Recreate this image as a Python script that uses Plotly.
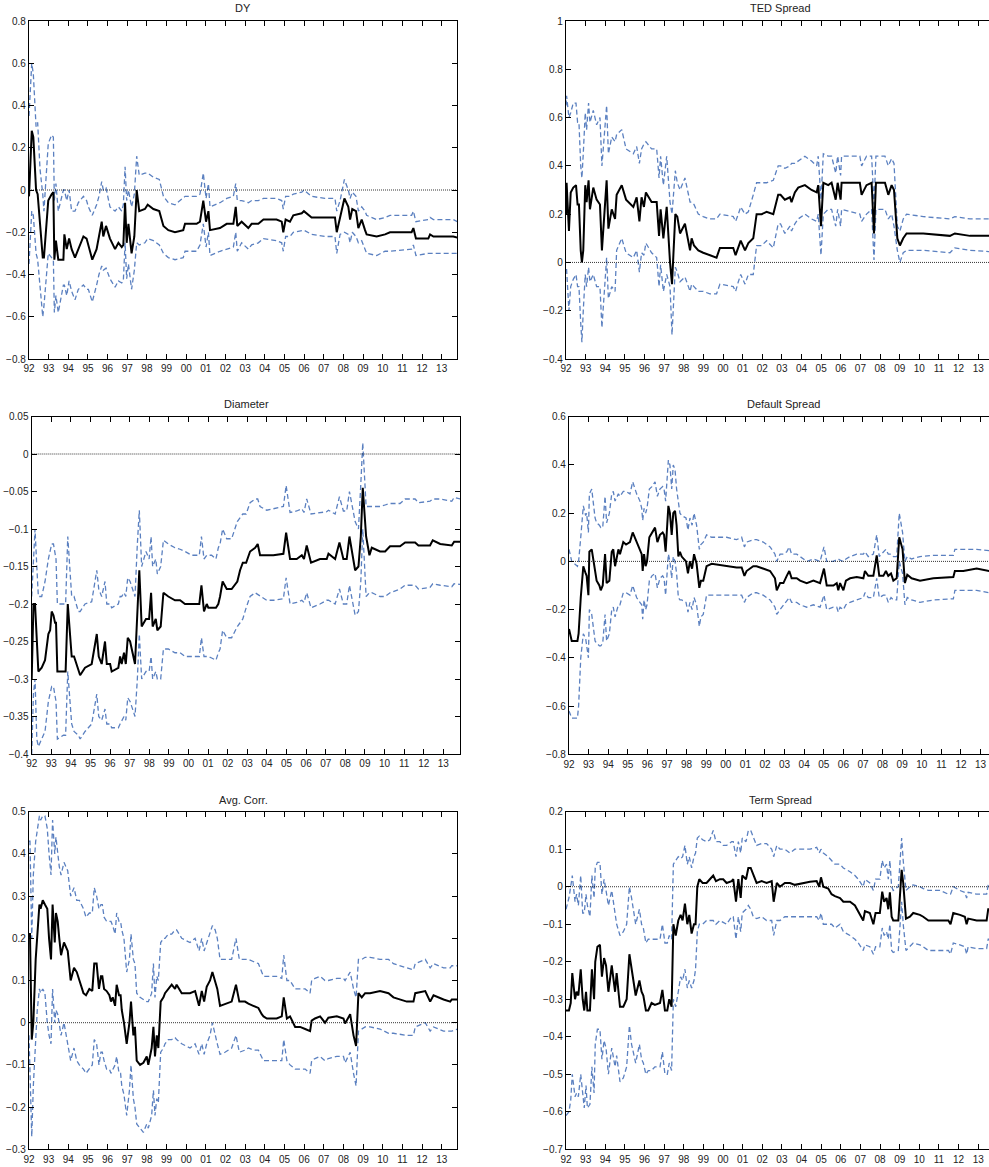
import plotly.graph_objects as go

W, H = 989, 1167

year_ticks = list(range(1992, 2014))
year_labels = ['92', '93', '94', '95', '96', '97', '98', '99', '00', '01', '02',
               '03', '04', '05', '06', '07', '08', '09', '10', '11', '12', '13']

# ---------------- DY ----------------
dy_t = [1992.00,1992.14,1992.22,1992.36,1992.44,1992.56,1992.70,1992.76,1992.98,1993.15,
        1993.24,1993.29,1993.37,1993.49,1993.75,1993.80,1993.92,1994.04,1994.17,1994.34,
        1994.51,1994.77,1994.93,1995.02,1995.22,1995.44,1995.56,1995.70,1995.78,1995.92,
        1996.12,1996.38,1996.55,1996.72,1996.80,1996.89,1996.97,1997.06,1997.22,1997.36,
        1997.48,1997.61,1997.90,1998.04,1998.33,1998.63,1998.84,1999.09,1999.43,1999.85,
        1999.94,2000.53,2000.70,2000.87,2001.01,2001.13,2001.21,2001.72,2002.06,2002.40,
        2002.52,2002.60,2002.82,2003.16,2003.33,2003.67,2003.93,2004.60,2004.86,2004.94,
        2005.06,2005.28,2005.45,2005.88,2005.99,2006.38,2007.06,2007.57,2007.66,2007.83,
        2008.05,2008.25,2008.34,2008.45,2008.64,2008.76,2008.93,2009.10,2009.18,2009.69,
        2010.12,2010.37,2011.47,2011.56,2011.69,2012.32,2012.41,2012.58,2013.59,2013.80]
dy_est = [-0.03,0.28,0.25,0.0,-0.02,-0.18,-0.32,-0.32,-0.05,-0.02,
          -0.01,-0.33,-0.24,-0.33,-0.33,-0.21,-0.28,-0.23,-0.28,-0.32,
          -0.28,-0.22,-0.23,-0.26,-0.33,-0.28,-0.22,-0.15,-0.22,-0.17,
          -0.23,-0.28,-0.25,-0.27,-0.26,-0.06,-0.25,-0.16,-0.30,-0.22,
          0.0,-0.10,-0.09,-0.07,-0.09,-0.10,-0.17,-0.19,-0.20,-0.19,
          -0.16,-0.16,-0.15,-0.05,-0.15,-0.10,-0.19,-0.18,-0.16,-0.16,
          -0.08,-0.17,-0.15,-0.18,-0.16,-0.16,-0.14,-0.14,-0.15,-0.20,
          -0.14,-0.15,-0.12,-0.11,-0.10,-0.13,-0.13,-0.13,-0.20,-0.13,
          -0.04,-0.08,-0.14,-0.09,-0.10,-0.18,-0.14,-0.19,-0.21,-0.22,
          -0.21,-0.20,-0.20,-0.18,-0.23,-0.23,-0.21,-0.22,-0.22,-0.225]
dy_up = [0.35,0.60,0.55,0.30,0.32,0.10,-0.02,-0.10,0.22,0.26,
         0.25,-0.05,0.03,-0.10,0.0,0.0,-0.05,0.0,-0.10,-0.10,
         -0.06,-0.03,-0.05,-0.08,-0.12,-0.07,-0.03,0.04,0.0,0.01,
         -0.08,-0.10,-0.08,-0.10,-0.07,0.11,-0.05,0.0,-0.08,-0.02,
         0.16,0.07,0.08,0.08,0.06,0.05,-0.03,-0.06,-0.07,-0.04,
         -0.03,-0.03,-0.02,0.08,-0.04,0.03,-0.08,-0.06,-0.04,-0.03,
         0.03,-0.05,-0.05,-0.06,-0.05,-0.05,-0.04,-0.04,-0.05,-0.09,
         -0.03,-0.03,-0.02,-0.01,0.0,-0.03,-0.04,-0.04,-0.10,-0.05,
         0.05,0.0,-0.04,-0.01,-0.03,-0.10,-0.08,-0.10,-0.12,-0.14,
         -0.13,-0.12,-0.12,-0.10,-0.15,-0.14,-0.13,-0.14,-0.14,-0.15]
dy_lo = [-0.35,-0.10,-0.12,-0.30,-0.33,-0.45,-0.60,-0.55,-0.30,-0.32,
         -0.33,-0.58,-0.50,-0.58,-0.45,-0.45,-0.50,-0.43,-0.48,-0.52,
         -0.47,-0.45,-0.47,-0.47,-0.53,-0.45,-0.40,-0.36,-0.38,-0.37,
         -0.42,-0.46,-0.43,-0.44,-0.43,-0.25,-0.42,-0.35,-0.47,-0.38,
         -0.25,-0.26,-0.25,-0.23,-0.24,-0.26,-0.30,-0.32,-0.33,-0.32,
         -0.29,-0.29,-0.26,-0.16,-0.27,-0.20,-0.31,-0.29,-0.28,-0.27,
         -0.20,-0.29,-0.25,-0.28,-0.26,-0.25,-0.23,-0.24,-0.25,-0.29,
         -0.22,-0.22,-0.20,-0.19,-0.19,-0.21,-0.22,-0.22,-0.30,-0.21,
         -0.20,-0.21,-0.25,-0.20,-0.22,-0.25,-0.24,-0.28,-0.30,-0.31,
         -0.29,-0.29,-0.28,-0.26,-0.31,-0.30,-0.30,-0.30,-0.30,-0.30]

# ---------------- TED Spread ----------------
ted_t = [1992.00,1992.03,1992.15,1992.24,1992.37,1992.51,1992.59,1992.66,1992.75,1992.81,
         1992.88,1992.98,1993.05,1993.15,1993.22,1993.39,1993.56,1993.73,1993.83,1993.94,
         1994.07,1994.16,1994.33,1994.50,1994.58,1994.84,1995.06,1995.43,1995.60,1995.74,
         1995.85,1995.97,1996.07,1996.36,1996.62,1996.74,1996.82,1996.96,1997.13,1997.30,
         1997.40,1997.57,1997.67,1997.81,1998.06,1998.32,1998.40,1998.52,1998.74,1998.99,
         1999.33,1999.67,1999.84,2000.52,2000.64,2000.78,2000.90,2001.12,2001.29,2001.54,
         2001.71,2001.97,2002.22,2002.56,2002.81,2002.93,2003.15,2003.41,2003.49,2003.66,
         2003.83,2004.17,2004.51,2004.77,2004.85,2004.99,2005.11,2005.36,2005.53,2005.74,
         2005.84,2005.99,2006.04,2006.97,2007.06,2007.31,2007.57,2007.69,2007.79,2008.25,
         2008.42,2008.59,2008.71,2008.88,2009.01,2009.18,2009.35,2010.20,2011.56,2011.81,
         2012.58,2013.55,2013.80]
ted_est = [0.20,0.33,0.13,0.29,0.31,0.32,0.24,0.24,0.05,0.00,
           0.05,0.32,0.25,0.34,0.22,0.31,0.26,0.24,0.05,0.17,
           0.34,0.14,0.22,0.18,0.28,0.32,0.26,0.23,0.27,0.17,
           0.27,0.23,0.29,0.25,0.25,0.11,0.22,0.10,0.23,0.00,
           -0.09,0.20,0.19,0.12,0.16,0.05,0.10,0.07,0.05,0.04,
           0.03,0.02,0.06,0.06,0.03,0.06,0.09,0.05,0.08,0.10,
           0.20,0.20,0.21,0.20,0.28,0.28,0.26,0.27,0.25,0.29,
           0.31,0.32,0.30,0.29,0.32,0.15,0.33,0.32,0.33,0.26,
           0.33,0.26,0.33,0.33,0.28,0.32,0.33,0.12,0.33,0.33,
           0.28,0.32,0.30,0.10,0.07,0.10,0.12,0.12,0.11,0.12,
           0.11,0.11,0.11]
ted_up = [0.65,0.69,0.60,0.62,0.66,0.66,0.58,0.58,0.40,0.35,
          0.45,0.62,0.55,0.66,0.58,0.63,0.57,0.60,0.40,0.50,
          0.65,0.45,0.52,0.50,0.53,0.55,0.47,0.45,0.48,0.41,
          0.47,0.49,0.50,0.47,0.47,0.35,0.44,0.32,0.44,0.25,
          0.20,0.38,0.33,0.30,0.35,0.25,0.25,0.24,0.20,0.19,
          0.18,0.18,0.20,0.19,0.17,0.20,0.23,0.20,0.21,0.28,
          0.33,0.33,0.33,0.34,0.40,0.40,0.39,0.40,0.41,0.41,
          0.42,0.44,0.42,0.40,0.44,0.26,0.45,0.44,0.44,0.37,
          0.44,0.36,0.44,0.44,0.40,0.44,0.44,0.24,0.44,0.44,
          0.40,0.43,0.41,0.15,0.13,0.18,0.20,0.19,0.18,0.19,
          0.18,0.18,0.18]
ted_lo = [-0.03,-0.03,-0.20,-0.10,-0.07,-0.05,-0.10,-0.10,-0.25,-0.33,
          -0.20,-0.05,-0.10,-0.02,-0.08,-0.05,-0.10,-0.10,-0.27,-0.15,
          0.02,-0.15,-0.10,-0.12,0.05,0.10,0.04,0.02,0.05,-0.04,
          0.04,0.03,0.08,0.04,0.02,-0.10,-0.01,-0.12,-0.05,-0.10,
          -0.30,-0.02,-0.04,-0.08,-0.06,-0.12,-0.09,-0.10,-0.12,-0.12,
          -0.13,-0.13,-0.09,-0.10,-0.12,-0.08,-0.05,-0.09,-0.05,-0.05,
          0.07,0.07,0.09,0.06,0.16,0.16,0.12,0.15,0.13,0.16,
          0.18,0.20,0.18,0.17,0.20,0.03,0.20,0.22,0.22,0.15,
          0.22,0.15,0.22,0.20,0.17,0.20,0.22,0.01,0.22,0.22,
          0.18,0.20,0.15,0.05,0.00,0.04,0.05,0.05,0.04,0.06,
          0.05,0.045,0.045]

# ---------------- Diameter ----------------
dia_t = [1992.00,1992.09,1992.17,1992.26,1992.34,1992.51,1992.68,1992.85,1992.94,1993.02,
         1993.11,1993.19,1993.24,1993.31,1993.62,1993.73,1993.84,1994.04,1994.16,1994.38,
         1994.47,1994.72,1995.06,1995.32,1995.42,1995.57,1995.74,1995.83,1996.00,1996.08,
         1996.42,1996.51,1996.59,1996.71,1996.80,1996.90,1997.02,1997.27,1997.39,1997.49,
         1997.61,1997.83,1997.99,1998.09,1998.17,1998.33,1998.41,1998.58,1998.72,1998.97,
         1999.31,1999.57,1999.82,2000.16,2000.55,2000.66,2000.79,2000.93,2001.01,2001.18,
         2001.40,2001.52,2001.61,2001.74,2001.95,2002.20,2002.49,2002.63,2002.77,2002.94,
         2003.14,2003.40,2003.53,2003.65,2003.99,2004.33,2004.84,2004.98,2005.18,2005.52,
         2005.78,2005.89,2006.03,2006.25,2006.71,2007.05,2007.14,2007.48,2007.70,2007.90,
         2008.07,2008.21,2008.50,2008.67,2008.79,2008.89,2009.06,2009.23,2009.35,2009.77,
         2010.03,2010.28,2010.79,2011.05,2011.56,2011.73,2012.32,2012.46,2012.84,2013.43,
         2013.55,2013.87]
dia_est = [-0.30,-0.20,-0.20,-0.26,-0.29,-0.285,-0.275,-0.24,-0.235,-0.21,
           -0.215,-0.225,-0.225,-0.29,-0.29,-0.29,-0.20,-0.27,-0.27,-0.29,
           -0.295,-0.285,-0.28,-0.24,-0.27,-0.28,-0.25,-0.28,-0.28,-0.29,
           -0.285,-0.27,-0.28,-0.265,-0.28,-0.245,-0.25,-0.28,-0.20,-0.155,
           -0.23,-0.22,-0.22,-0.185,-0.23,-0.22,-0.235,-0.23,-0.185,-0.19,
           -0.195,-0.195,-0.20,-0.20,-0.20,-0.175,-0.21,-0.20,-0.205,-0.205,
           -0.205,-0.20,-0.19,-0.17,-0.18,-0.18,-0.17,-0.155,-0.145,-0.145,
           -0.13,-0.125,-0.12,-0.135,-0.135,-0.135,-0.133,-0.105,-0.14,-0.14,
           -0.135,-0.14,-0.122,-0.145,-0.14,-0.14,-0.133,-0.14,-0.118,-0.14,
           -0.14,-0.11,-0.155,-0.15,-0.11,-0.045,-0.11,-0.135,-0.125,-0.13,
           -0.13,-0.123,-0.123,-0.118,-0.118,-0.122,-0.122,-0.115,-0.12,-0.122,
           -0.117,-0.117]
dia_up = [-0.19,-0.14,-0.10,-0.15,-0.19,-0.19,-0.17,-0.14,-0.13,-0.12,
          -0.12,-0.13,-0.14,-0.20,-0.20,-0.20,-0.11,-0.19,-0.19,-0.21,
          -0.21,-0.20,-0.197,-0.155,-0.18,-0.19,-0.17,-0.20,-0.20,-0.205,
          -0.20,-0.19,-0.19,-0.185,-0.19,-0.165,-0.17,-0.19,-0.12,-0.075,
          -0.15,-0.13,-0.14,-0.11,-0.15,-0.14,-0.16,-0.15,-0.115,-0.12,
          -0.125,-0.127,-0.13,-0.135,-0.135,-0.11,-0.14,-0.135,-0.135,-0.135,
          -0.14,-0.125,-0.12,-0.10,-0.113,-0.113,-0.09,-0.085,-0.08,-0.08,
          -0.065,-0.06,-0.06,-0.07,-0.075,-0.073,-0.07,-0.042,-0.078,-0.076,
          -0.073,-0.078,-0.06,-0.08,-0.078,-0.077,-0.075,-0.08,-0.057,-0.076,
          -0.076,-0.05,-0.09,-0.10,-0.04,0.015,-0.07,-0.07,-0.07,-0.07,
          -0.068,-0.066,-0.066,-0.06,-0.06,-0.065,-0.063,-0.06,-0.06,-0.063,
          -0.058,-0.06]
dia_lo = [-0.40,-0.32,-0.30,-0.38,-0.39,-0.38,-0.37,-0.33,-0.32,-0.31,
          -0.31,-0.32,-0.33,-0.38,-0.375,-0.375,-0.29,-0.36,-0.37,-0.375,
          -0.38,-0.37,-0.36,-0.32,-0.35,-0.355,-0.34,-0.36,-0.36,-0.365,
          -0.365,-0.36,-0.355,-0.35,-0.355,-0.325,-0.33,-0.35,-0.30,-0.24,
          -0.30,-0.29,-0.29,-0.27,-0.30,-0.29,-0.30,-0.30,-0.26,-0.26,
          -0.265,-0.265,-0.27,-0.27,-0.27,-0.245,-0.27,-0.27,-0.27,-0.272,
          -0.275,-0.265,-0.26,-0.235,-0.245,-0.245,-0.23,-0.225,-0.22,-0.205,
          -0.19,-0.185,-0.187,-0.19,-0.195,-0.195,-0.193,-0.165,-0.20,-0.198,
          -0.195,-0.198,-0.185,-0.205,-0.20,-0.195,-0.195,-0.20,-0.18,-0.20,
          -0.20,-0.175,-0.215,-0.21,-0.17,-0.10,-0.19,-0.185,-0.185,-0.19,
          -0.19,-0.185,-0.18,-0.175,-0.175,-0.18,-0.178,-0.173,-0.175,-0.177,
          -0.173,-0.174]

# ---------------- Default Spread ----------------
dfs_t = [1992.00,1992.14,1992.43,1992.49,1992.60,1992.73,1992.85,1992.90,1992.99,1993.04,
         1993.16,1993.33,1993.41,1993.55,1993.62,1993.72,1993.84,1993.92,1994.06,1994.18,
         1994.26,1994.35,1994.52,1994.60,1994.77,1994.91,1995.11,1995.25,1995.45,1995.62,
         1995.71,1995.76,1995.83,1995.91,1995.98,1996.10,1996.23,1996.39,1996.51,1996.64,
         1996.78,1996.85,1996.93,1997.07,1997.15,1997.24,1997.32,1997.41,1997.49,1997.58,
         1997.66,1997.75,1997.97,1998.07,1998.17,1998.28,1998.38,1998.51,1998.65,1998.73,
         1998.85,1999.02,1999.28,1999.70,2000.04,2000.55,2000.81,2000.95,2001.06,2001.40,
         2001.57,2001.91,2002.26,2002.51,2002.60,2002.77,2002.94,2003.11,2003.24,2003.36,
         2003.62,2003.79,2004.13,2004.47,2004.81,2005.01,2005.15,2005.49,2005.66,2005.74,
         2005.83,2006.00,2006.13,2006.34,2006.68,2007.02,2007.10,2007.27,2007.53,2007.70,
         2007.83,2008.04,2008.17,2008.29,2008.43,2008.55,2008.72,2008.85,2009.02,2009.14,
         2009.26,2009.48,2009.91,2010.59,2011.61,2011.69,2012.12,2012.80,2013.43,2013.80]
dfs_est = [-0.28,-0.33,-0.33,-0.30,-0.15,-0.02,-0.05,-0.06,-0.14,0.04,
           0.05,-0.05,-0.08,-0.10,-0.12,-0.10,0.03,-0.09,-0.08,0.04,
           0.05,-0.02,0.05,0.03,0.08,0.07,0.08,0.12,0.08,0.04,
           0.03,-0.04,0.03,-0.02,0.00,0.10,0.12,0.14,0.08,0.11,
           0.12,0.11,0.04,0.23,0.20,0.11,0.20,0.21,0.15,0.02,
           0.04,0.02,0.00,-0.05,0.00,-0.03,0.03,-0.01,-0.11,-0.08,
           -0.08,-0.02,-0.01,-0.015,-0.02,-0.025,-0.025,-0.06,-0.04,-0.02,
           -0.02,-0.03,-0.04,-0.07,-0.12,-0.09,-0.09,-0.06,-0.04,-0.07,
           -0.07,-0.08,-0.09,-0.08,-0.09,-0.03,-0.10,-0.10,-0.09,-0.12,
           -0.09,-0.12,-0.08,-0.07,-0.065,-0.07,-0.04,-0.06,-0.06,0.025,
           -0.06,-0.06,-0.04,-0.06,-0.05,-0.08,-0.07,0.10,0.05,-0.09,
           -0.055,-0.07,-0.08,-0.07,-0.065,-0.04,-0.04,-0.03,-0.04,-0.045]
dfs_up = [0.05,0.00,-0.02,0.00,0.10,0.23,0.19,0.20,0.12,0.28,
          0.30,0.18,0.16,0.15,0.14,0.14,0.27,0.16,0.20,0.28,
          0.29,0.25,0.28,0.27,0.29,0.29,0.28,0.33,0.28,0.25,
          0.22,0.17,0.22,0.20,0.22,0.30,0.31,0.33,0.27,0.30,
          0.31,0.30,0.25,0.42,0.40,0.30,0.40,0.38,0.30,0.24,
          0.20,0.19,0.18,0.13,0.18,0.15,0.20,0.15,0.05,0.07,
          0.08,0.11,0.10,0.10,0.10,0.09,0.10,0.06,0.08,0.09,
          0.09,0.08,0.06,0.03,0.00,0.03,0.03,0.04,0.06,0.03,
          0.03,0.02,0.00,0.01,0.00,0.06,0.00,0.00,0.005,0.01,
          0.005,0.00,0.01,0.02,0.03,0.03,0.04,0.02,0.03,0.11,
          0.02,0.04,0.05,0.03,0.03,0.02,0.02,0.20,0.12,0.00,
          0.02,0.01,0.02,0.025,0.025,0.05,0.05,0.05,0.045,0.04]
dfs_lo = [-0.62,-0.65,-0.65,-0.60,-0.40,-0.30,-0.32,-0.35,-0.40,-0.20,
          -0.22,-0.33,-0.34,-0.35,-0.35,-0.34,-0.22,-0.33,-0.30,-0.20,
          -0.19,-0.23,-0.18,-0.18,-0.13,-0.13,-0.14,-0.10,-0.15,-0.17,
          -0.18,-0.24,-0.16,-0.20,-0.18,-0.08,-0.06,-0.05,-0.11,-0.07,
          -0.06,-0.07,-0.14,0.03,0.00,-0.07,0.02,0.00,-0.05,-0.15,
          -0.16,-0.16,-0.17,-0.21,-0.17,-0.20,-0.15,-0.18,-0.27,-0.23,
          -0.22,-0.14,-0.14,-0.14,-0.14,-0.14,-0.14,-0.17,-0.15,-0.13,
          -0.13,-0.14,-0.16,-0.19,-0.22,-0.20,-0.18,-0.16,-0.15,-0.17,
          -0.17,-0.18,-0.19,-0.18,-0.19,-0.14,-0.20,-0.19,-0.19,-0.21,
          -0.19,-0.20,-0.18,-0.17,-0.16,-0.15,-0.13,-0.15,-0.15,-0.07,
          -0.15,-0.14,-0.14,-0.17,-0.15,-0.16,-0.16,0.00,-0.05,-0.18,
          -0.15,-0.16,-0.17,-0.16,-0.155,-0.12,-0.12,-0.12,-0.13,-0.13]

# ---------------- Avg. Corr. ----------------
acr_t = [1992.00,1992.05,1992.14,1992.22,1992.34,1992.42,1992.53,1992.59,1992.70,1992.81,
         1992.93,1993.02,1993.12,1993.20,1993.31,1993.37,1993.46,1993.54,1993.63,1993.78,
         1993.97,1994.12,1994.29,1994.43,1994.56,1994.77,1994.90,1995.07,1995.22,1995.32,
         1995.44,1995.56,1995.66,1995.73,1995.82,1995.95,1996.09,1996.17,1996.26,1996.38,
         1996.46,1996.58,1996.66,1996.72,1996.83,1996.97,1997.11,1997.19,1997.31,1997.39,
         1997.48,1997.65,1997.82,1997.99,1998.07,1998.24,1998.33,1998.41,1998.50,1998.58,
         1998.70,1998.84,1998.92,1999.09,1999.26,1999.43,1999.51,1999.77,2000.19,2000.45,
         2000.65,2000.79,2000.91,2001.04,2001.21,2001.33,2001.47,2001.58,2001.72,2001.97,
         2002.31,2002.53,2002.70,2002.99,2003.16,2003.41,2003.67,2003.84,2003.93,2004.10,
         2004.60,2004.86,2004.96,2005.12,2005.28,2005.54,2005.79,2006.05,2006.30,2006.38,
         2006.55,2006.81,2007.06,2007.23,2007.66,2008.00,2008.08,2008.34,2008.51,2008.64,
         2008.76,2008.93,2009.10,2009.35,2009.86,2010.29,2010.54,2011.22,2011.56,2011.65,
         2012.16,2012.41,2012.58,2013.09,2013.43,2013.51,2013.80]
acr_est = [0.21,0.21,-0.04,0.00,0.15,0.20,0.28,0.27,0.29,0.28,
           0.27,0.20,0.15,0.28,0.19,0.26,0.24,0.20,0.16,0.19,
           0.17,0.10,0.13,0.12,0.10,0.07,0.065,0.08,0.075,0.14,
           0.14,0.08,0.11,0.11,0.08,0.075,0.065,0.05,0.06,0.04,
           0.09,0.065,0.065,0.03,0.00,-0.05,0.00,0.05,-0.03,-0.01,
           -0.09,-0.10,-0.095,-0.08,-0.10,-0.06,-0.01,-0.08,-0.03,-0.06,
           0.05,0.06,0.07,0.08,0.09,0.08,0.09,0.07,0.07,0.075,
           0.04,0.075,0.05,0.085,0.10,0.12,0.10,0.08,0.04,0.045,
           0.05,0.09,0.05,0.05,0.045,0.04,0.035,0.02,0.015,0.01,
           0.01,0.015,0.06,0.01,0.015,-0.01,-0.01,-0.015,-0.02,0.005,
           0.01,0.015,0.00,0.012,0.015,0.01,-0.002,0.02,-0.03,-0.055,
           0.07,0.06,0.07,0.07,0.075,0.07,0.06,0.05,0.05,0.07,
           0.075,0.05,0.065,0.055,0.05,0.055,0.055]
acr_up = [0.43,0.43,0.20,0.35,0.43,0.46,0.49,0.48,0.49,0.49,
          0.46,0.40,0.35,0.48,0.40,0.44,0.40,0.37,0.35,0.38,
          0.36,0.30,0.32,0.29,0.29,0.27,0.25,0.26,0.26,0.32,
          0.30,0.27,0.28,0.28,0.25,0.24,0.24,0.24,0.23,0.21,
          0.26,0.24,0.24,0.22,0.20,0.12,0.15,0.21,0.15,0.14,
          0.07,0.06,0.055,0.05,0.05,0.07,0.14,0.06,0.11,0.10,
          0.19,0.20,0.20,0.21,0.21,0.22,0.22,0.20,0.19,0.20,
          0.17,0.20,0.17,0.19,0.21,0.23,0.22,0.20,0.15,0.15,
          0.15,0.20,0.15,0.15,0.15,0.145,0.14,0.12,0.11,0.11,
          0.11,0.105,0.16,0.10,0.10,0.08,0.08,0.08,0.07,0.10,
          0.105,0.11,0.10,0.10,0.105,0.105,0.10,0.12,0.08,0.06,
          0.15,0.15,0.155,0.155,0.15,0.15,0.14,0.13,0.125,0.14,
          0.15,0.13,0.14,0.13,0.13,0.135,0.135]
acr_lo = [-0.03,-0.10,-0.27,-0.15,-0.05,0.03,0.08,0.07,0.08,0.07,
          0.00,-0.03,-0.05,0.08,0.00,0.03,0.02,0.00,-0.03,0.00,
          -0.05,-0.09,-0.06,-0.09,-0.10,-0.11,-0.12,-0.11,-0.10,-0.04,
          -0.05,-0.10,-0.07,-0.07,-0.09,-0.11,-0.11,-0.12,-0.11,-0.10,
          -0.08,-0.12,-0.12,-0.15,-0.17,-0.22,-0.16,-0.10,-0.18,-0.20,
          -0.24,-0.25,-0.26,-0.24,-0.25,-0.22,-0.16,-0.22,-0.18,-0.19,
          -0.07,-0.06,-0.05,-0.04,-0.04,-0.035,-0.04,-0.05,-0.06,-0.05,
          -0.075,-0.05,-0.075,-0.05,-0.03,0.00,-0.03,-0.05,-0.075,-0.07,
          -0.06,-0.03,-0.07,-0.065,-0.06,-0.065,-0.065,-0.08,-0.09,-0.09,
          -0.09,-0.09,-0.04,-0.09,-0.10,-0.11,-0.11,-0.11,-0.12,-0.09,
          -0.085,-0.08,-0.09,-0.085,-0.08,-0.08,-0.095,-0.07,-0.12,-0.15,
          -0.02,-0.015,-0.01,-0.01,-0.015,-0.025,-0.025,-0.03,-0.03,-0.01,
          0.00,-0.02,-0.01,-0.02,-0.02,-0.02,-0.015]

# ---------------- Term Spread ----------------
trm_t = [1992.00,1992.15,1992.24,1992.32,1992.46,1992.54,1992.63,1992.75,1992.85,1992.93,
         1993.02,1993.09,1993.22,1993.32,1993.43,1993.49,1993.60,1993.73,1993.83,1993.94,
         1994.04,1994.16,1994.33,1994.50,1994.58,1994.75,1994.92,1995.09,1995.23,1995.34,
         1995.55,1995.74,1995.85,1995.94,1996.07,1996.19,1996.36,1996.53,1996.79,1996.91,
         1997.04,1997.16,1997.26,1997.38,1997.47,1997.59,1997.72,1997.84,1997.94,1998.06,
         1998.18,1998.28,1998.40,1998.52,1998.60,1998.69,1998.79,1998.96,1999.16,1999.33,
         1999.50,1999.64,1999.84,2000.01,2000.18,2000.44,2000.52,2000.66,2000.78,2000.90,
         2000.98,2001.17,2001.29,2001.41,2001.54,2001.71,2001.97,2002.22,2002.48,2002.58,
         2002.74,2002.90,2003.15,2003.41,2003.66,2004.09,2004.43,2004.77,2004.90,2004.99,
         2005.11,2005.36,2005.53,2005.70,2005.96,2006.13,2006.47,2006.72,2006.89,2007.14,
         2007.23,2007.48,2007.66,2007.77,2007.99,2008.11,2008.21,2008.33,2008.42,2008.50,
         2008.59,2008.67,2008.93,2009.10,2009.18,2009.32,2009.52,2009.69,2010.03,2010.20,
         2010.46,2011.05,2011.48,2011.59,2011.73,2012.07,2012.32,2012.41,2012.49,2012.92,
         2013.43,2013.51,2013.80]
trm_est = [-0.33,-0.33,-0.31,-0.23,-0.30,-0.28,-0.29,-0.22,-0.30,-0.33,
           -0.28,-0.33,-0.33,-0.22,-0.30,-0.20,-0.16,-0.155,-0.24,-0.19,
           -0.21,-0.28,-0.21,-0.28,-0.23,-0.32,-0.32,-0.30,-0.18,-0.22,
           -0.29,-0.25,-0.28,-0.29,-0.33,-0.33,-0.31,-0.315,-0.31,-0.275,
           -0.33,-0.33,-0.30,-0.32,-0.10,-0.13,-0.09,-0.075,-0.09,-0.045,
           -0.10,-0.075,-0.125,-0.10,-0.10,0.00,0.02,0.01,0.01,0.02,
           0.03,0.015,0.02,0.02,0.01,0.015,0.02,-0.04,0.02,-0.03,
           0.03,0.02,0.05,0.05,0.03,0.01,0.015,0.01,0.015,-0.04,
           0.01,0.00,0.01,0.01,0.005,0.01,0.013,0.015,0.00,0.025,
           0.00,-0.005,-0.02,-0.025,-0.03,-0.04,-0.04,-0.05,-0.065,-0.09,
           -0.065,-0.07,-0.10,-0.07,-0.07,-0.013,-0.04,-0.03,-0.06,-0.015,
           -0.08,-0.09,-0.09,0.045,0.01,-0.085,-0.08,-0.07,-0.075,-0.08,
           -0.09,-0.09,-0.09,-0.10,-0.07,-0.075,-0.08,-0.10,-0.085,-0.09,
           -0.09,-0.06,-0.06]
trm_up = [-0.06,-0.03,0.00,0.03,-0.04,-0.02,-0.05,0.03,-0.07,-0.07,
          -0.02,-0.05,-0.08,0.03,-0.03,0.05,0.065,0.065,-0.02,0.02,
          -0.01,-0.05,-0.01,-0.08,-0.10,-0.13,-0.12,-0.10,0.00,-0.03,
          -0.10,-0.06,-0.10,-0.11,-0.15,-0.14,-0.14,-0.14,-0.14,-0.10,
          -0.15,-0.15,-0.13,-0.14,0.06,0.07,0.08,0.075,0.08,0.11,
          0.06,0.08,0.05,0.08,0.09,0.13,0.135,0.125,0.12,0.125,
          0.15,0.12,0.12,0.11,0.11,0.12,0.12,0.08,0.12,0.09,
          0.13,0.12,0.15,0.15,0.13,0.11,0.115,0.115,0.10,0.08,
          0.11,0.10,0.10,0.09,0.10,0.10,0.10,0.105,0.09,0.10,
          0.09,0.08,0.07,0.06,0.06,0.05,0.04,0.03,0.02,0.00,
          0.02,0.01,-0.01,0.02,0.02,0.07,0.05,0.06,0.02,0.07,
          0.00,-0.01,0.00,0.13,0.07,-0.01,0.00,0.005,0.00,-0.005,
          -0.01,-0.01,-0.02,-0.02,0.00,-0.01,-0.015,-0.03,-0.015,-0.02,
          -0.02,0.005,0.005]
trm_lo = [-0.61,-0.60,-0.57,-0.50,-0.56,-0.55,-0.56,-0.50,-0.55,-0.59,
          -0.53,-0.59,-0.58,-0.48,-0.55,-0.42,-0.38,-0.38,-0.46,-0.41,
          -0.43,-0.50,-0.43,-0.48,-0.45,-0.52,-0.51,-0.48,-0.37,-0.42,
          -0.47,-0.42,-0.46,-0.47,-0.50,-0.49,-0.49,-0.48,-0.48,-0.44,
          -0.50,-0.50,-0.47,-0.49,-0.30,-0.32,-0.28,-0.24,-0.25,-0.22,
          -0.27,-0.25,-0.27,-0.25,-0.22,-0.12,-0.10,-0.10,-0.09,-0.09,
          -0.09,-0.10,-0.09,-0.095,-0.10,-0.08,-0.08,-0.14,-0.08,-0.12,
          -0.07,-0.06,-0.05,-0.06,-0.08,-0.085,-0.08,-0.09,-0.09,-0.13,
          -0.09,-0.09,-0.08,-0.08,-0.08,-0.08,-0.08,-0.08,-0.09,-0.07,
          -0.10,-0.10,-0.10,-0.11,-0.10,-0.12,-0.13,-0.14,-0.15,-0.17,
          -0.155,-0.16,-0.18,-0.16,-0.16,-0.11,-0.13,-0.12,-0.14,-0.10,
          -0.17,-0.175,-0.17,-0.04,-0.10,-0.17,-0.16,-0.15,-0.155,-0.16,
          -0.17,-0.17,-0.17,-0.18,-0.15,-0.155,-0.16,-0.18,-0.16,-0.165,
          -0.165,-0.14,-0.14]

# ---------------- layout helpers ----------------
BLUE = '#5B80C0'
FONT = 'Liberation Sans, Arial, sans-serif'

panels = [
    # title, t, est, up, lo, px-left, px-right, px-top, px-bottom, x-end, y-range, dtick, title-x, title-y, cut-right
    ('DY', dy_t, dy_est, dy_up, dy_lo, 29, 457, 21, 359, 2013.78, [-0.8, 0.8], 0.2, 243, 8, False),
    ('TED Spread', ted_t, ted_est, ted_up, ted_lo, 566, 989, 21, 359, 2013.55, [-0.4, 1.0], 0.2, 780, 8, True),
    ('Diameter', dia_t, dia_est, dia_up, dia_lo, 31.7, 460, 416.5, 754, 2013.85, [-0.4, 0.05], 0.05, 246, 404, False),
    ('Default Spread', dfs_t, dfs_est, dfs_up, dfs_lo, 569, 989, 416.7, 754.3, 2013.43, [-0.8, 0.6], 0.2, 783, 404, True),
    ('Avg. Corr.', acr_t, acr_est, acr_up, acr_lo, 29, 457.3, 811.7, 1149.3, 2013.79, [-0.3, 0.5], 0.1, 243, 800, False),
    ('Term Spread', trm_t, trm_est, trm_up, trm_lo, 566, 989, 811.7, 1149.3, 2013.55, [-0.7, 0.2], 0.1, 780, 800, True),
]

fig = go.Figure()
layout = dict(
    width=W, height=H, margin=dict(l=0, r=0, t=0, b=0),
    paper_bgcolor='white', plot_bgcolor='white', showlegend=False,
    template='none', font=dict(family=FONT, size=10, color='#222222'),
)
annotations = []
shapes = []

for i, (title, t, est, up, lo, xl, xr, yt, yb, xend, yr, dt, tx, ty, cut) in enumerate(panels):
    k = '' if i == 0 else str(i + 1)
    xa, ya = 'x' + k, 'y' + k
    for series in (up, lo):
        fig.add_trace(go.Scatter(x=t, y=series, mode='lines', xaxis=xa, yaxis=ya,
                                 line=dict(color=BLUE, width=1.3, dash='5px,3px'),
                                 hoverinfo='skip'))
    fig.add_trace(go.Scatter(x=t, y=est, mode='lines', xaxis=xa, yaxis=ya,
                             line=dict(color='black', width=2)))
    shapes.append(dict(type='line', xref=xa + ' domain', yref=ya, x0=0, x1=1, y0=0, y1=0,
                       line=dict(color='black', width=0.8, dash='1px,1px'), layer='above'))
    layout['xaxis' + k] = dict(
        domain=[xl / W, xr / W], range=[1992, xend], anchor=ya,
        tickmode='array', tickvals=year_ticks, ticktext=year_labels,
        ticks='inside', ticklen=5, tickwidth=1, tickcolor='black',
        showline=True, linecolor='black', linewidth=1.4, mirror='ticks',
        showgrid=False, zeroline=False, automargin=False,
        tickfont=dict(size=10, family=FONT, color='#222222'),
    )
    layout['yaxis' + k] = dict(
        domain=[1 - yb / H, 1 - yt / H], range=yr, anchor=xa,
        dtick=dt, tick0=0, ticks='inside', ticklen=5, tickwidth=1, tickcolor='black',
        showline=True, linecolor='black', linewidth=1.4,
        mirror=False if cut else 'ticks',
        showgrid=False, zeroline=False, automargin=False,
        tickfont=dict(size=10, family=FONT, color='#222222'),
    )
    annotations.append(dict(text=title, xref='paper', yref='paper', x=tx / W, y=1 - ty / H,
                            xanchor='center', yanchor='middle', showarrow=False,
                            font=dict(size=11, family=FONT, color='#222222')))

layout['annotations'] = annotations
layout['shapes'] = shapes
fig.update_layout(**layout)

fig.write_html("out.html", config={'displayModeBar': False},
               post_script="document.body.style.margin='0';document.body.style.overflow='hidden';")
